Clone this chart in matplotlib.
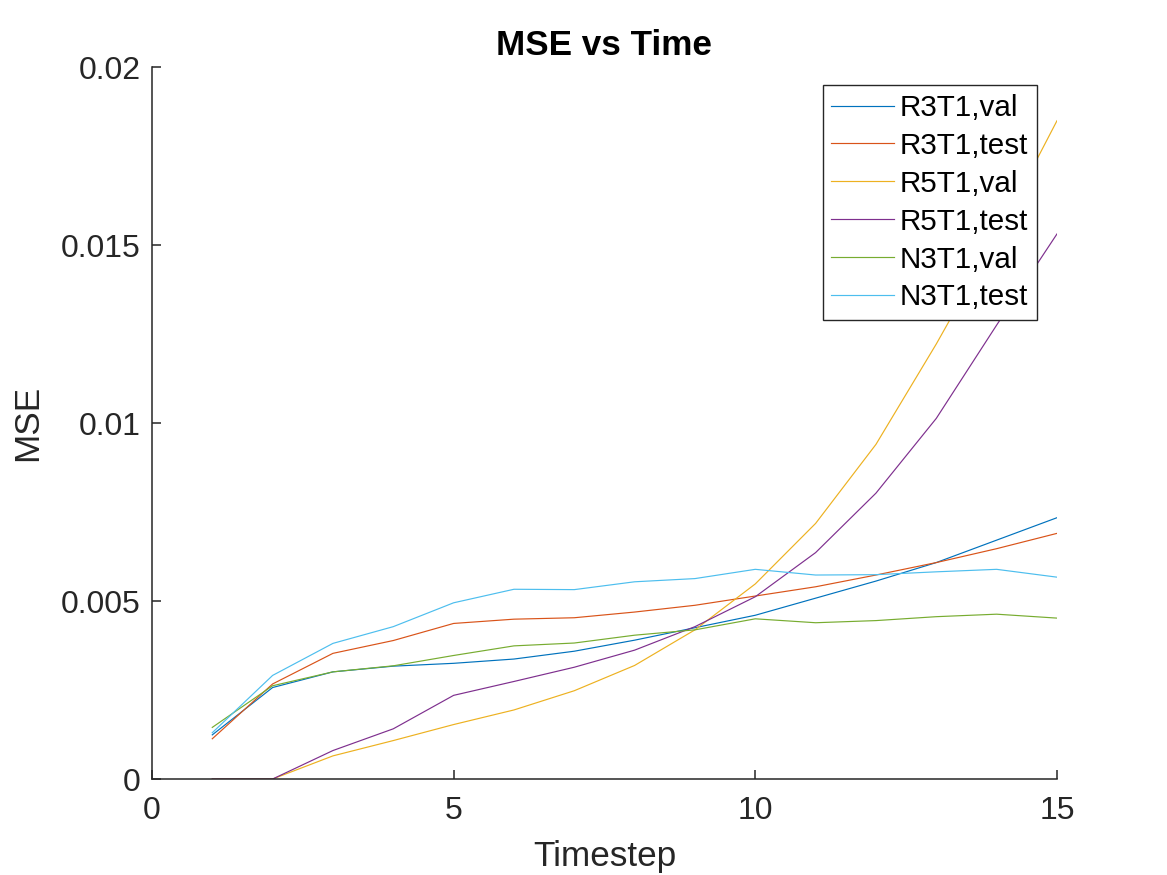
"""
MSE vs Time line chart for the three model configurations.

Saves the figure to out.png.
"""

import matplotlib
matplotlib.use("Agg")  # no display in the sandbox
import matplotlib.pyplot as plt
from matplotlib.ticker import FuncFormatter

TIMESTEPS: list[int] = list(range(1, 16))

R3T1_VAL: list[float] = [0.00124, 0.00257, 0.00301, 0.00317, 0.00325,
                         0.00337, 0.00359, 0.00390, 0.00425, 0.00460,
                         0.00508, 0.00556, 0.00608, 0.00671, 0.00734]
R3T1_TEST: list[float] = [0.00113, 0.00267, 0.00353, 0.00389, 0.00437,
                          0.00449, 0.00453, 0.00469, 0.00488, 0.00514,
                          0.00540, 0.00573, 0.00608, 0.00647, 0.00690]
R5T1_VAL: list[float] = [0.0, 0.0, 0.00065, 0.00108, 0.00153,
                         0.00194, 0.00248, 0.00319, 0.00419, 0.00548,
                         0.00718, 0.00940, 0.01222, 0.01523, 0.01849]
R5T1_TEST: list[float] = [0.0, 0.0, 0.00080, 0.00141, 0.00235,
                          0.00274, 0.00314, 0.00362, 0.00428, 0.00512,
                          0.00636, 0.00803, 0.01013, 0.01275, 0.01531]
N3T1_VAL: list[float] = [0.00145, 0.00262, 0.00301, 0.00318, 0.00347,
                         0.00374, 0.00382, 0.00404, 0.00419, 0.00450,
                         0.00439, 0.00445, 0.00456, 0.00463, 0.00452]
N3T1_TEST: list[float] = [0.00130, 0.00291, 0.00381, 0.00428, 0.00495,
                          0.00533, 0.00532, 0.00554, 0.00563, 0.00589,
                          0.00573, 0.00574, 0.00582, 0.00589, 0.00567]

LABELS: list[str] = ["R3T1,val", "R3T1,test", "R5T1,val",
                     "R5T1,test", "N3T1,val", "N3T1,test"]
SERIES: list[list[float]] = [R3T1_VAL, R3T1_TEST, R5T1_VAL,
                             R5T1_TEST, N3T1_VAL, N3T1_TEST]
# MATLAB default line colours
COLORS: list[str] = ["#0072BD", "#D95319", "#EDB120",
                     "#7E2F8E", "#77AC30", "#4DBEEE"]

X_TICKS: list[int] = [0, 5, 10, 15]
Y_TICKS: list[float] = [0, 0.005, 0.01, 0.015, 0.02]

AXIS_GRAY = "#262626"

plt.rcParams["font.family"] = ["Liberation Sans", "DejaVu Sans"]

fig = plt.figure(figsize=(11.67, 8.75), dpi=100)
ax = fig.add_axes([0.1302, 0.1097, 0.7755, 0.8137])

for values, label, color in zip(SERIES, LABELS, COLORS):
    ax.plot(TIMESTEPS, values, color=color, linewidth=0.85, label=label)

ax.set_xlim(0, 15)
ax.set_ylim(0, 0.02)
ax.set_xticks(X_TICKS)
ax.set_yticks(Y_TICKS)
ax.yaxis.set_major_formatter(FuncFormatter(lambda v, _: f"{v:g}"))

# MATLAB "box off": only left and bottom axes
for side in ("top", "right"):
    ax.spines[side].set_visible(False)
for side in ("left", "bottom"):
    ax.spines[side].set_color(AXIS_GRAY)
    ax.spines[side].set_linewidth(1.1)

ax.tick_params(axis="both", direction="in", length=6.8, width=1.1,
               color=AXIS_GRAY, labelcolor=AXIS_GRAY, labelsize=23)
ax.tick_params(axis="x", pad=12.5)
ax.tick_params(axis="y", pad=8)

ax.set_xlabel("Timestep", fontsize=25.3, color=AXIS_GRAY, labelpad=10)
ax.set_ylabel("MSE", fontsize=25.3, color=AXIS_GRAY, labelpad=12)
ax.set_title("MSE vs Time", fontsize=25.3, fontweight="bold", pad=9)

leg = ax.legend(loc="upper right",
                bbox_to_anchor=(1036.7 / 1167, 1 - 85 / 875),
                bbox_transform=fig.transFigure,
                borderaxespad=0, fontsize=21.3, fancybox=False,
                framealpha=1, edgecolor=AXIS_GRAY,
                handlelength=2.1, handletextpad=0.2,
                labelspacing=0.335, borderpad=0.3)
leg.get_frame().set_linewidth(1.0)

fig.savefig("out.png", dpi=100)
plt.close(fig)
print("  Saved: out.png")
